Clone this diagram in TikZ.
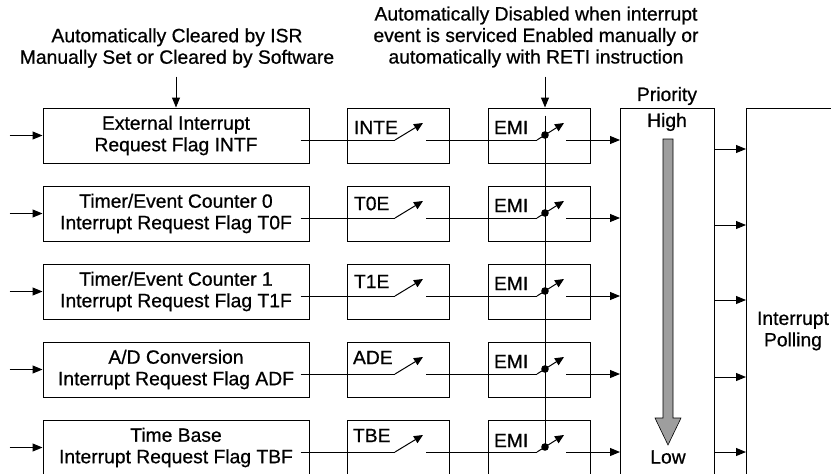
\documentclass[tikz,border=0pt]{standalone}
\usepackage{fontspec}
\setmainfont{Liberation Sans}[FakeBold=0.7]
\usetikzlibrary{arrows.meta,calc}

\tikzset{
  flagbox/.style={draw, minimum width=266pt, minimum height=55pt, inner sep=0pt, align=center},
  swbox/.style={draw, minimum width=102pt, minimum height=55pt, inner sep=0pt},
  swlabel/.style={anchor=west, inner sep=0pt},
  tip/.style={-{Triangle[length=10pt,width=8pt]}},
  lever/.style={-{Triangle[length=9pt,width=8pt]}},
}

\begin{document}
\begin{tikzpicture}[x=1pt, y=-1pt, line width=1pt, font=\fontsize{19.3}{21.5}\selectfont]

  \clip (0,0) rectangle (831,474);

  % notes on top
  \node[align=center] (isr-note) at (177,48) {Automatically Cleared by ISR\\Manually Set or Cleared by Software};
  \node[align=center] (emi-note) at (536,37) {Automatically Disabled when interrupt\\event is serviced Enabled manually or\\automatically with RETI instruction};

  % Row 1: external interrupt
  \node[flagbox] (intf) at (176,135.5) {External Interrupt\\Request Flag INTF};
  \node[swbox] (inte) at (398,135.5) {};
  \node[swlabel] (inte-t) at ($(inte.north west)+(7,20)$) {INTE};
  \node[swbox] (emi1) at (539,135.5) {};
  \node[swlabel] (emi1-t) at ($(emi1.north west)+(6,20)$) {EMI};
  \draw[tip] (intf.west) ++(-33,0) -- (intf.west);
  \draw ($(intf.east)+(-9,4.5)$) -- ($(inte)+(-3,4.5)$) edge[lever] ($(inte)+(25,-12.5)$)
        ($(inte)+(28,4.5)$) -- ($(emi1)+(-2,4.5)$) edge[lever] ($(emi1)+(25,-12.5)$);
  \fill ($(emi1)+(6,-0.5)$) circle (3.8pt);
  \draw[tip] ($(emi1)+(27,4.5)$) -- ++(54,0);

  % Row 2: timer/event counter 0
  \node[flagbox] (t0f) at (176,213.5) {Timer/Event Counter 0\\Interrupt Request Flag T0F};
  \node[swbox] (t0e) at (398,213.5) {};
  \node[swlabel] (t0e-t) at ($(t0e.north west)+(7,18)$) {T0E};
  \node[swbox] (emi2) at (539,213.5) {};
  \node[swlabel] (emi2-t) at ($(emi2.north west)+(6,20)$) {EMI};
  \draw[tip] (t0f.west) ++(-33,0) -- (t0f.west);
  \draw ($(t0f.east)+(-9,4.5)$) -- ($(t0e)+(-3,4.5)$) edge[lever] ($(t0e)+(25,-12.5)$)
        ($(t0e)+(28,4.5)$) -- ($(emi2)+(-2,4.5)$) edge[lever] ($(emi2)+(25,-12.5)$);
  \fill ($(emi2)+(6,-0.5)$) circle (3.8pt);
  \draw[tip] ($(emi2)+(27,4.5)$) -- ++(54,0);

  % Row 3: timer/event counter 1
  \node[flagbox] (t1f) at (176,291.5) {Timer/Event Counter 1\\Interrupt Request Flag T1F};
  \node[swbox] (t1e) at (398,291.5) {};
  \node[swlabel] (t1e-t) at ($(t1e.north west)+(7,18)$) {T1E};
  \node[swbox] (emi3) at (539,291.5) {};
  \node[swlabel] (emi3-t) at ($(emi3.north west)+(6,20)$) {EMI};
  \draw[tip] (t1f.west) ++(-33,0) -- (t1f.west);
  \draw ($(t1f.east)+(-9,4.5)$) -- ($(t1e)+(-3,4.5)$) edge[lever] ($(t1e)+(25,-12.5)$)
        ($(t1e)+(28,4.5)$) -- ($(emi3)+(-2,4.5)$) edge[lever] ($(emi3)+(25,-12.5)$);
  \fill ($(emi3)+(6,-0.5)$) circle (3.8pt);
  \draw[tip] ($(emi3)+(27,4.5)$) -- ++(54,0);

  % Row 4: A/D conversion
  \node[flagbox] (adf) at (176,369.5) {A/D Conversion\\Interrupt Request Flag ADF};
  \node[swbox] (ade) at (398,369.5) {};
  \node[swlabel] (ade-t) at ($(ade.north west)+(6,16)$) {ADE};
  \node[swbox] (emi4) at (539,369.5) {};
  \node[swlabel] (emi4-t) at ($(emi4.north west)+(6,20)$) {EMI};
  \draw[tip] (adf.west) ++(-33,0) -- (adf.west);
  \draw ($(adf.east)+(-9,4.5)$) -- ($(ade)+(-3,4.5)$) edge[lever] ($(ade)+(25,-12.5)$)
        ($(ade)+(28,4.5)$) -- ($(emi4)+(-2,4.5)$) edge[lever] ($(emi4)+(25,-12.5)$);
  \fill ($(emi4)+(6,-0.5)$) circle (3.8pt);
  \draw[tip] ($(emi4)+(27,4.5)$) -- ++(54,0);

  % Row 5: time base
  \node[flagbox] (tbf) at (176,447.5) {Time Base\\Interrupt Request Flag TBF};
  \node[swbox] (tbe) at (398,447.5) {};
  \node[swlabel] (tbe-t) at ($(tbe.north west)+(6,16)$) {TBE};
  \node[swbox] (emi5) at (539,447.5) {};
  \node[swlabel] (emi5-t) at ($(emi5.north west)+(6,21)$) {EMI};
  \draw[tip] (tbf.west) ++(-33,0) -- (tbf.west);
  \draw ($(tbf.east)+(-9,4.5)$) -- ($(tbe)+(-3,4.5)$) edge[lever] ($(tbe)+(25,-12.5)$)
        ($(tbe)+(28,4.5)$) -- ($(emi5)+(-2,4.5)$) edge[lever] ($(emi5)+(25,-12.5)$);
  \fill ($(emi5)+(6,-0.5)$) circle (3.8pt);
  \draw[tip] ($(emi5)+(27,4.5)$) -- ++(54,0);

  % note arrows and EMI line
  \draw[tip] (intf.north) ++(0,-31) -- (intf.north);
  \draw[tip] ($(emi1.north)+(6,-31)$) -- ($(emi1.north)+(6,0)$);
  \draw ($(emi1)+(6,-20)$) -- ($(emi5)+(6,-0.5)$);

  % Priority box
  \node[draw, minimum width=94pt, minimum height=400pt, anchor=north] (prio) at (667,108) {};
  \node (prio-t) at (667,96) {Priority};
  \node (high) at (667,122) {High};
  \node (low) at (668,457) {Low};
  \filldraw[fill=black!38, line width=0.6pt] (663,139) -- (673,139) -- (673,418) -- (681,418)
    -- (668,445) -- (655,418) -- (663,418) -- cycle;

  % Interrupt Polling box
  \node[draw, minimum width=100pt, minimum height=446pt, anchor=north west] (poll) at (746,108) {};
  \node[align=center] (poll-t) at (793,331) {Interrupt\\Polling};

  % priority to polling
  \draw[tip] (prio.east |- 0,149) -- (poll.west |- 0,149);
  \draw[tip] (prio.east |- 0,225) -- (poll.west |- 0,225);
  \draw[tip] (prio.east |- 0,300) -- (poll.west |- 0,300);
  \draw[tip] (prio.east |- 0,377) -- (poll.west |- 0,377);
  \draw[tip] (prio.east |- 0,452) -- (poll.west |- 0,452);

\end{tikzpicture}
\end{document}
